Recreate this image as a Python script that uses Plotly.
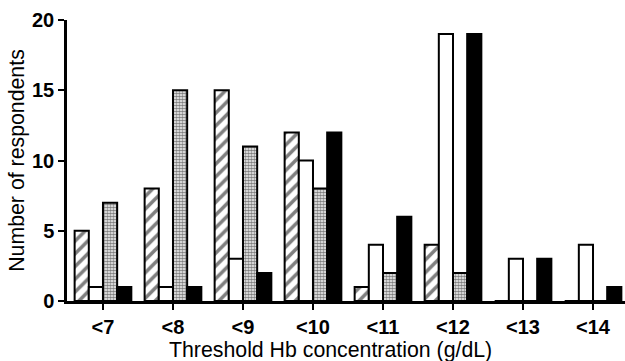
import plotly.graph_objects as go

categories = ["<7", "<8", "<9", "<10", "<11", "<12", "<13", "<14"]
hatched = [5, 8, 15, 12, 1, 4, 0, 0]
white = [1, 1, 3, 10, 4, 19, 3, 4]
dotted = [7, 15, 11, 8, 2, 2, 0, 0]
black = [1, 1, 2, 12, 6, 19, 3, 1]
x_title = "Threshold Hb concentration (g/dL)"
y_title = "Number of respondents"

outline = dict(color="black", width=2)
common = dict(textposition="none", hoverinfo="x+y")

fig = go.Figure()
fig.add_bar(x=categories, y=hatched, name="hatched", **common,
            marker=dict(color="white", line=outline,
                        pattern=dict(shape="/", fgcolor="black", bgcolor="white", size=9, solidity=0.4)))
fig.add_bar(x=categories, y=white, name="white", **common,
            marker=dict(color="white", line=outline))
fig.add_bar(x=categories, y=dotted, name="dotted", **common,
            marker=dict(color="white", line=outline,
                        pattern=dict(shape=".", fgcolor="black", bgcolor="white", size=3, solidity=0.65)))
fig.add_bar(x=categories, y=black, name="black", **common,
            marker=dict(color="black", line=outline))

font = "Liberation Sans, Arial, sans-serif"
fig.update_layout(
    width=625, height=361,
    margin=dict(l=67, r=0, t=20, b=60, autoexpand=False),
    barmode="group", bargap=0.19, bargroupgap=0,
    showlegend=False,
    plot_bgcolor="white", paper_bgcolor="white",
    font=dict(family=font, color="black"),
)
fig.add_annotation(text=x_title, xref="paper", yref="paper", x=0.473, y=-0.1744,
                   xanchor="center", yanchor="middle", showarrow=False,
                   font=dict(size=21.3, family=font, color="black"))
fig.update_xaxes(
    range=[-0.514, 7.457], automargin=False,
    showline=True, linecolor="black", linewidth=2.5,
    ticks="outside", ticklen=6, tickwidth=2, tickcolor="black",
    tickfont=dict(size=20, family=font, weight="bold"),
    showgrid=False, zeroline=False,
)
fig.update_yaxes(
    range=[0, 20], tickvals=[0, 5, 10, 15, 20], automargin=False,
    showline=True, linecolor="black", linewidth=2.5,
    ticks="outside", ticklen=6, tickwidth=2, tickcolor="black",
    tickfont=dict(size=20, family=font, weight="bold"),
    title=dict(text=y_title, font=dict(size=21.3), standoff=2),
    showgrid=False, zeroline=False,
)
fig.write_html("out.html", config={"displayModeBar": False},
               post_script="document.body.style.margin='0';")
